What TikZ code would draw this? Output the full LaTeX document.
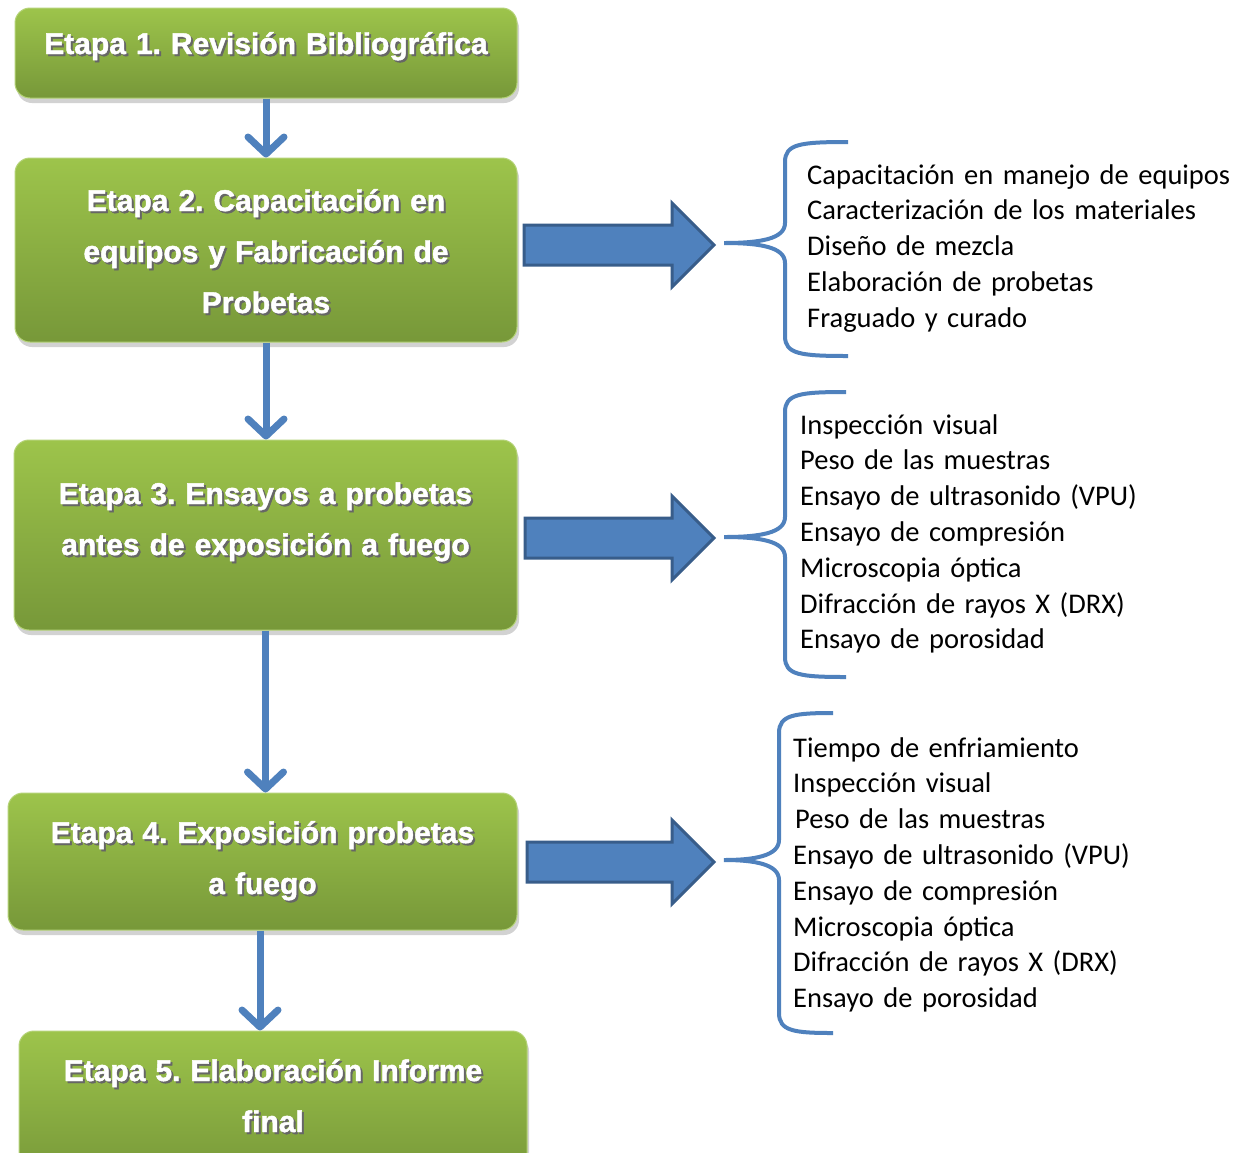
\documentclass[tikz,border=0pt]{standalone}
\usepackage{fontspec}
\setmainfont{Carlito}
\newfontfamily\boxfont{Liberation Sans}[BoldFeatures={FakeBold=1.5}]
\usetikzlibrary{arrows.meta,shadows,calc}
\definecolor{gtop}{HTML}{9DC44B}
\definecolor{gbot}{HTML}{779839}
\definecolor{ablue}{HTML}{4F81BD}
\definecolor{aborder}{HTML}{385D8A}
\newcommand\shtx[1]{\makebox[0pt][l]{\hspace{2pt}\raisebox{-2pt}{\textcolor{black!60}{#1}}}#1}
\newcommand\mybrace[6]{% xend ytop ybot xspine ymid xtip
  \draw[bracestyle] (#1,#2) .. controls (#4+15,#2) and (#4,#2+2) .. (#4,#2+20)
    -- (#4,#5-20) .. controls (#4,#5-4) and (#4-25,#5) .. (#6,#5)
    .. controls (#4-25,#5) and (#4,#5+4) .. (#4,#5+20)
    -- (#4,#3-20) .. controls (#4,#3-2) and (#4+15,#3) .. (#1,#3);}
\newcommand\blkarrow[2]{%
  \draw[blockarrow] (#1,#2-20) -- (672,#2-20) -- (672,#2-42) -- (714,#2)
    -- (672,#2+42) -- (672,#2+20) -- (#1,#2+20) -- cycle;}
\tikzset{
  stage/.style={rounded corners=15pt, top color=gtop, bottom color=gbot,
    draw=gtop!75!white, line width=1pt,
    drop shadow={opacity=0.35, shadow xshift=2pt, shadow yshift=-5pt}},
  stagetext/.style={text=white, text width=500pt, align=center, anchor=base,
    inner sep=0pt, font=\boxfont\bfseries\fontsize{30}{51}\selectfont},
  listtext/.style={text width=450pt, align=left, anchor=base west, inner sep=0pt,
    font=\fontsize{28.5}{35.8}\selectfont},
  varrow/.style={draw=ablue, line width=7pt, -{Straight Barb[round,length=17pt,width=36pt]}},
  blockarrow/.style={fill=ablue, draw=aborder, line width=3pt, line join=miter},
  bracestyle/.style={draw=ablue, line width=4pt}
}
\frenchspacing
\begin{document}
\begin{tikzpicture}[x=1pt,y=-1pt]
\useasboundingbox (0,0) rectangle (1241,1152);
\clip (0,0) rectangle (1241,1152);
\fill[white] (0,0) rectangle (1241,1152);

\node[stage, minimum width=502pt, minimum height=90pt] (b1) at (266,53) {};
\node[stage, minimum width=502pt, minimum height=184pt] (b2) at (266,250) {};
\node[stage, minimum width=503pt, minimum height=190pt] (b3) at (265.5,535) {};
\node[stage, minimum width=509pt, minimum height=137pt] (b4) at (262.5,861.5) {};
\node[stage, minimum width=508pt, minimum height=148pt] (b5) at (273,1105) {};

\node[stagetext] (t1) at (266,54) {\shtx{Etapa 1. Revisión Bibliográfica}};
\node[stagetext] (t2) at (266,211) {\shtx{Etapa 2. Capacitación en}\\\shtx{equipos y Fabricación de}\\\shtx{Probetas}};
\node[stagetext] (t3) at (265.5,504) {\shtx{Etapa 3. Ensayos a probetas}\\\shtx{antes de exposición a fuego}};
\node[stagetext] (t4) at (262.5,843) {\shtx{Etapa 4. Exposición probetas}\\\shtx{a fuego}};
\node[stagetext] (t5) at (273,1081) {\shtx{Etapa 5. Elaboración Informe}\\\shtx{final}};

\coordinate (c4) at (260,0);
\draw[varrow] (b1.south) -- (b2.north);
\draw[varrow] (b2.south) -- (b2.south |- b3.north);
\draw[varrow] (b3.south) -- (b3.south |- b4.north);
\draw[varrow] (b4.south -| c4) -- (b5.north -| c4);

\blkarrow{524}{245}
\blkarrow{525}{538}
\blkarrow{527}{862}

\mybrace{848}{142}{356}{785}{243}{724}
\mybrace{846}{392}{677}{785}{537}{724}
\mybrace{833}{713}{1033}{779}{860}{724}

\node[listtext] (l1) at (807,184) {Capacitación en manejo de equipos\\Caracterización de los materiales\\Diseño de mezcla\\Elaboración de probetas\\Fraguado y curado};
\node[listtext] (l2) at (800,434) {Inspección visual\\Peso de las muestras\\Ensayo de ultrasonido (VPU)\\Ensayo de compresión\\Microscopia óptica\\Difracción de rayos X (DRX)\\Ensayo de porosidad};
\node[listtext] (l3) at (793,757) {Tiempo de enfriamiento\\Inspección visual\\\hspace*{2pt}Peso de las muestras\\Ensayo de ultrasonido (VPU)\\Ensayo de compresión\\Microscopia óptica\\Difracción de rayos X (DRX)\\Ensayo de porosidad};
\end{tikzpicture}
\end{document}
